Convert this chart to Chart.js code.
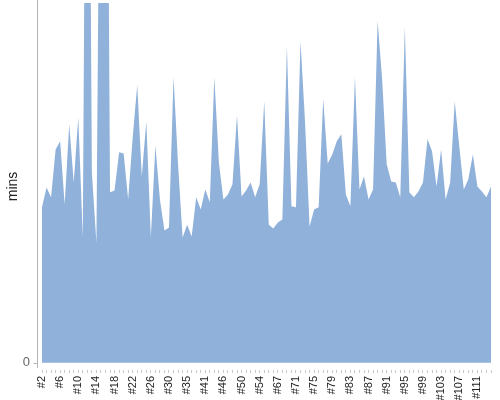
<!DOCTYPE html>
<html>
<head>
<meta charset="utf-8">
<script src="https://cdn.jsdelivr.net/npm/chart.js@4/dist/chart.umd.min.js"></script>
<style>
  html, body { margin: 0; padding: 0; background: #fff; }
  #wrap { width: 500px; height: 400px; }
</style>
</head>
<body>
<div id="wrap"><canvas id="chart" width="500" height="400"></canvas></div>
<script>
// Data (run numbers have a few gaps)
const runNumbers = [
  2, 3, 4, 5, 6, 7, 8, 9, 10, 11, 12, 13, 14, 15, 16, 17, 18, 19, 20, 21,
  22, 23, 24, 25, 26, 27, 28, 29, 30, 31, 32, 33, 35, 36, 38, 40, 41, 42, 43, 45,
  46, 47, 48, 49, 50, 51, 52, 53, 54, 57, 61, 64, 67, 68, 69, 70, 71, 72, 73, 74,
  75, 76, 77, 78, 79, 80, 81, 82, 83, 84, 85, 86, 87, 88, 89, 90, 91, 92, 93, 94,
  95, 96, 97, 98, 99, 100, 101, 102, 103, 104, 105, 106, 107, 108, 109, 110, 111, 112, 113, 114
]
const minutes = [
  43.2, 48.7, 46.0, 59.3, 61.6, 44.0, 66.3, 50.1, 68.2, 34.8,
  250, 52.9, 33.4, 200, 250, 47.4, 47.9, 58.5, 58.2, 45.4,
  62.7, 77.2, 51.8, 67.1, 34.8, 60.4, 45.4, 36.8, 37.6, 79.4,
  55.2, 34.8, 38.4, 35.1, 46.0, 42.6, 48.2, 44.6, 79.4, 55.7,
  45.4, 46.8, 49.6, 68.8, 46.2, 47.9, 50.1, 46.0, 49.6, 72.7,
  38.4, 37.3, 39.0, 39.8, 88.0, 43.5, 43.2, 89.4, 66.9, 37.9,
  42.6, 43.2, 73.3, 55.4, 57.9, 61.6, 63.5, 46.8, 43.5, 79.4,
  48.2, 51.8, 45.4, 48.2, 95.0, 78.8, 55.2, 50.4, 50.1, 46.0,
  93.3, 47.4, 46.0, 47.6, 50.1, 62.1, 58.8, 49.0, 59.3, 45.4,
  50.1, 72.7, 60.2, 48.2, 51.0, 57.9, 49.0, 47.6, 46.0, 49.0
]
const yTicks = [0]
const labelEvery = 4

const labels = runNumbers.map(n => '#' + n)

// left axis line sits a few px away from the plot, draw it by hand
const axisLine = {
  id: 'axisLine',
  afterDraw(chart) {
    const { ctx, chartArea } = chart
    const x = Math.round(chartArea.left - 5) + 0.5
    const y0 = Math.round(chart.scales.y.getPixelForValue(0)) + 0.5
    ctx.save()
    ctx.strokeStyle = '#b4b4b4'
    ctx.lineWidth = 1
    ctx.beginPath()
    ctx.moveTo(x, 0)
    ctx.lineTo(x, chartArea.bottom - 2)
    ctx.moveTo(x - 4, y0)
    ctx.lineTo(x, y0)
    ctx.stroke()
    ctx.restore()
  }
}

new Chart(document.getElementById('chart'), {
  type: 'line',
  data: {
    labels: labels,
    datasets: [{
      data: minutes,
      fill: 'origin',
      backgroundColor: '#8fb1da',
      borderColor: '#8fb1da',
      borderWidth: 0,
      pointRadius: 0,
      tension: 0
    }]
  },
  options: {
    responsive: false,
    animation: false,
    layout: { padding: { top: 3, right: 9, bottom: 0, left: 0 } },
    plugins: { legend: { display: false }, tooltip: { enabled: false } },
    scales: {
      x: {
        border: { display: false },
        grid: { display: true, drawOnChartArea: false, drawTicks: true, tickLength: 3, color: '#c8c8c8' },
        afterFit: (scale) => {
          scale.height = 30
          scale.paddingLeft = 0
          scale.paddingRight = 0
        },
        ticks: {
          autoSkip: false,
          minRotation: 90,
          maxRotation: 90,
          padding: 3,
          color: '#222',
          font: { family: 'Liberation Sans, Arial, sans-serif', size: 11 },
          callback: (v, i) => i % labelEvery === 0 ? labels[i] : ''
        }
      },
      y: {
        min: -2,
        max: 100,
        border: { display: false },
        grid: { display: false, drawTicks: false },
        afterBuildTicks: (scale) => { scale.ticks = yTicks.map(v => ({ value: v })) },
        afterFit: (scale) => {
          scale.width = 42
          scale.paddingTop = 0
          scale.paddingBottom = 0
        },
        ticks: {
          padding: 12,
          color: '#666',
          font: { family: 'Liberation Sans, Arial, sans-serif', size: 13 }
        },
        title: {
          display: true,
          text: 'mins',
          color: '#222',
          padding: { top: 5, bottom: 0 },
          font: { family: 'Liberation Sans, Arial, sans-serif', size: 14 }
        }
      }
    }
  },
  plugins: [axisLine]
})
</script>
</body>
</html>
